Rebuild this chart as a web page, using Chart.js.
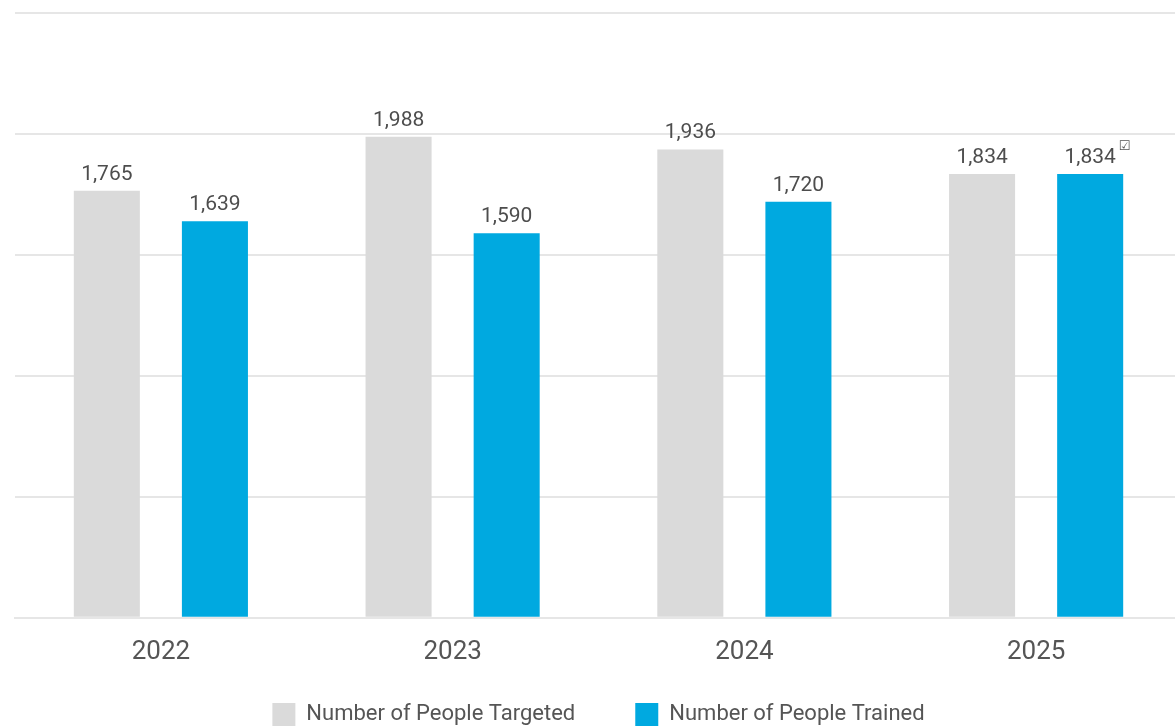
<!DOCTYPE html>
<html>
<head>
<meta charset="utf-8">
<script src="https://cdn.jsdelivr.net/npm/chart.js@4/dist/chart.umd.min.js"></script>
<style>
  html, body { margin: 0; padding: 0; background: #ffffff; overflow: hidden; }
  #wrap { width: 1198px; height: 772px; }
</style>
</head>
<body>
<div id="wrap"><canvas id="chart" width="1198" height="772"></canvas></div>
<script>
// Training figures by year
const years = ['2022', '2023', '2024', '2025'];
const targeted = [1765, 1988, 1936, 1834];
const trained = [1639, 1590, 1720, 1834];
const seriesNames = ['Number of People Targeted', 'Number of People Trained'];
// Assured figure marker shown beside the latest trained value
const assuredMarks = [false, false, false, true];

const FONT = 'Roboto, "Noto Sans", sans-serif';

// Draws the value above each bar
const valueLabels = {
  id: 'valueLabels',
  afterDatasetsDraw(chart) {
    const ctx = chart.ctx;
    ctx.save();
    ctx.font = '21px ' + FONT;
    ctx.fillStyle = '#4d4d4d';
    ctx.textAlign = 'center';
    ctx.textBaseline = 'alphabetic';
    chart.data.datasets.forEach((ds, di) => {
      const meta = chart.getDatasetMeta(di);
      meta.data.forEach((bar, i) => {
        const txt = ds.data[i].toLocaleString('en-US');
        const y = bar.y - 11;
        ctx.fillText(txt, bar.x, y);
        if (di === 1 && assuredMarks[i]) {
          const w = ctx.measureText(txt).width;
          ctx.save();
          ctx.font = '13px "DejaVu Sans", sans-serif';
          ctx.textAlign = 'left';
          ctx.fillStyle = '#555555';
          ctx.fillText('\u2611', bar.x + w / 2 + 3, y - 13);
          ctx.restore();
        }
      });
    });
    ctx.restore();
  }
};

// Pulls the legend row up closer to the year labels while keeping wide item spacing
const legendLift = {
  id: 'legendLift',
  afterLayout(chart) {
    const lg = chart.legend;
    if (lg) {
      lg.top -= 36;
      lg.bottom -= 36;
    }
  }
};

new Chart(document.getElementById('chart'), {
  type: 'bar',
  data: {
    labels: years,
    datasets: [
      { label: seriesNames[0], data: targeted, backgroundColor: '#dadada' },
      { label: seriesNames[1], data: trained, backgroundColor: '#00a9e0' }
    ]
  },
  options: {
    responsive: false,
    animation: false,
    layout: { padding: { top: 13, left: 15, right: 16, bottom: 0 } },
    datasets: { bar: { categoryPercentage: 0.741, barPercentage: 0.611 } },
    scales: {
      x: {
        grid: { display: false },
        border: { display: true, color: '#e6e6e6', width: 2 },
        ticks: { color: '#555555', font: { family: FONT, size: 26 }, padding: 11 }
      },
      y: {
        min: 0,
        max: 2500,
        ticks: { stepSize: 500, display: false },
        border: { display: false },
        grid: { color: '#e6e6e6', lineWidth: 2, drawTicks: false }
      }
    },
    plugins: {
      legend: {
        position: 'bottom',
        labels: {
          color: '#555555',
          font: { family: FONT, size: 22 },
          boxWidth: 23,
          boxHeight: 23,
          padding: 60
        }
      },
      tooltip: { enabled: false }
    }
  },
  plugins: [valueLabels, legendLift]
});
</script>
</body>
</html>
